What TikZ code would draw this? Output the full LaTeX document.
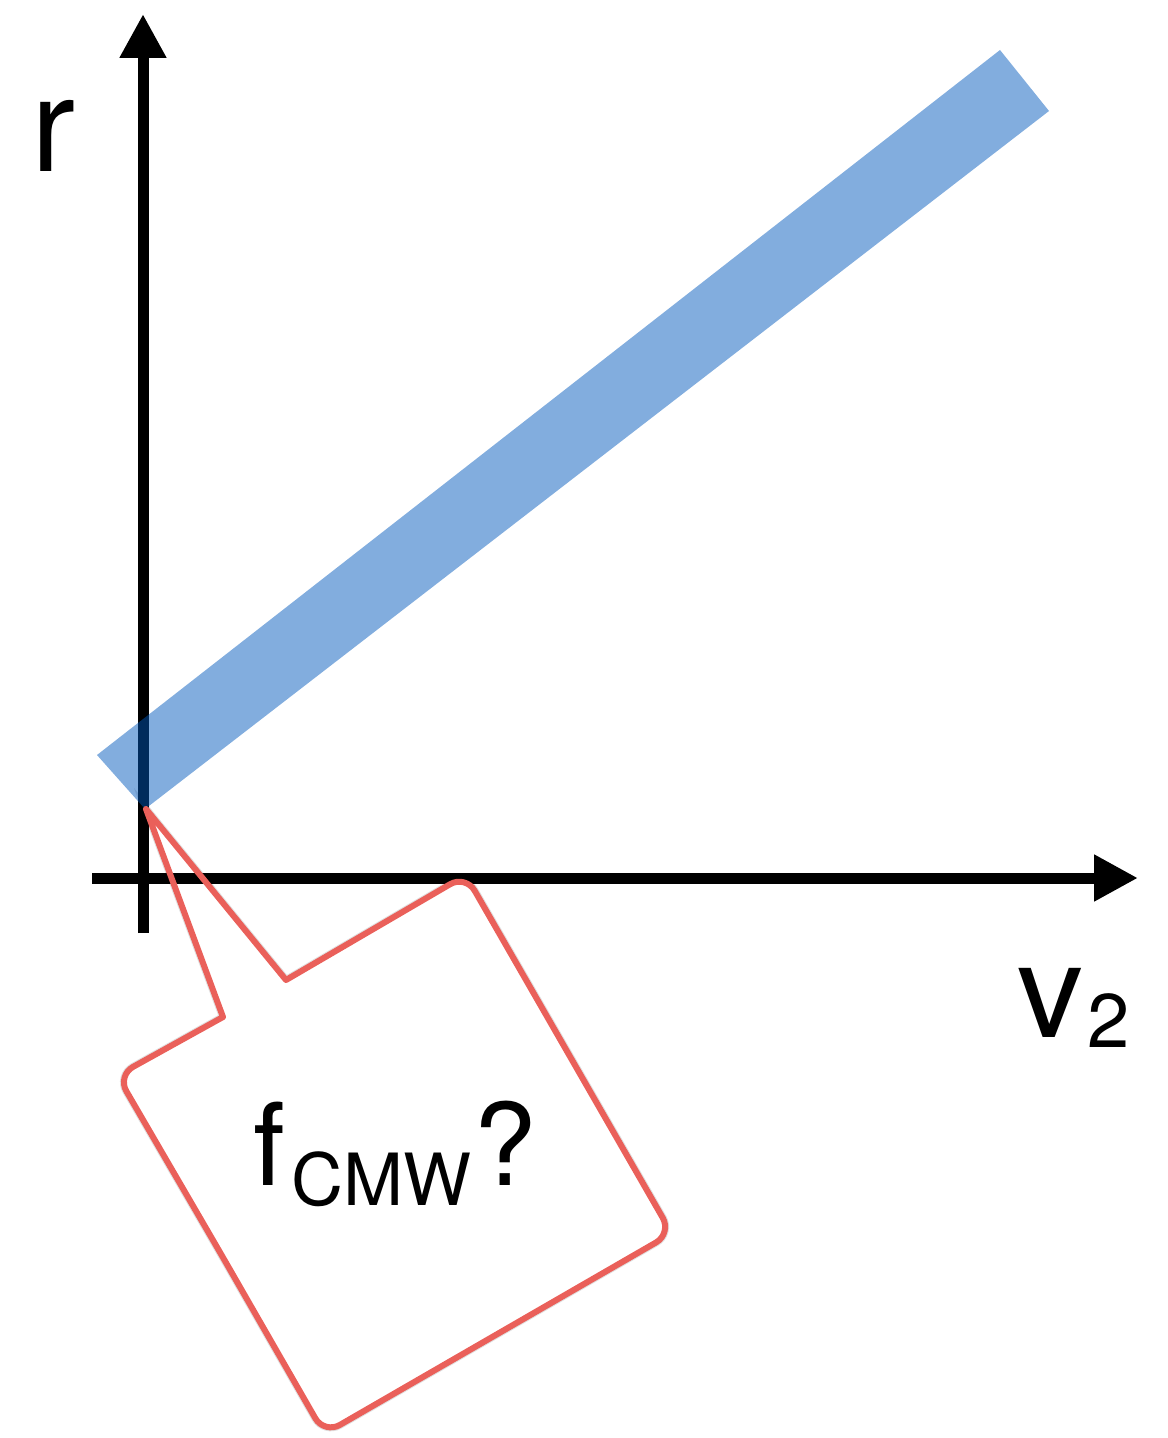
\documentclass[tikz,border=0pt]{standalone}
\usepackage{fontspec}
\setmainfont{TeX Gyre Heros}
\usetikzlibrary{arrows.meta}

\definecolor{bandblue}{RGB}{0,88,188}
\definecolor{calloutred}{RGB}{234,96,90}

\begin{document}
\begin{tikzpicture}[x=0.5pt,y=-0.5pt,
  axis/.style={line width=5.5pt,-{Triangle[length=22pt,width=22pt]}},
  band/.style={fill=bandblue,fill opacity=0.49},
  callout/.style={draw=calloutred,line width=3pt,line join=round},
  axislabel/.style={anchor=base west,inner sep=0pt,font=\fontsize{66}{66}\selectfont}]
  \useasboundingbox (0,0) rectangle (1167,1438);

  % Axis end points
  \coordinate (ybot) at (143,933);
  \coordinate (ytop) at (143,14);
  \coordinate (xleft) at (92,878);
  \coordinate (xright) at (1138,878);

  % Callout corners, pointer base and tip
  \coordinate (cm) at (221.3,1254.5);
  \coordinate (ctl) at (117.3,1075.6);
  \coordinate (ctr) at (465.7,875.1);
  \coordinate (cbr) at (671.7,1233.4);
  \coordinate (cbl) at (324.3,1433.9);
  \coordinate (pa) at (223,1017);
  \coordinate (pb) at (286,980);
  \coordinate (tip) at (146,809);

  % Callout shadow and white body
  \draw[black,opacity=0.12,line width=4pt,shift={(3,4)}]
    (cm) [rounded corners=9pt]-- (ctl) [sharp corners]-- (pa) -- (tip) -- (pb)
    [rounded corners=9pt]-- (ctr) -- (cbr) -- (cbl) -- cycle;
  \fill[white]
    (cm) [rounded corners=9pt]-- (ctl) [sharp corners]-- (pa) -- (tip) -- (pb)
    [rounded corners=9pt]-- (ctr) -- (cbr) -- (cbl) -- cycle;

  % Axes
  \draw[axis] (ybot) -- (ytop);
  \draw[axis] (xleft) -- (xright);

  % Band
  \fill[band] (97,755) -- (145,809) -- (1049,111) -- (1000,50) -- cycle;

  % Callout outline
  \draw[callout]
    (cm) [rounded corners=9pt]-- (ctl) [sharp corners]-- (pa) -- (tip) -- (pb)
    [rounded corners=9pt]-- (ctr) -- (cbr) -- (cbl) -- cycle;

  % Labels
  \node[axislabel] (ylabel) at (31,172) {r};
  \node[axislabel] (xlabel) at (1017,1037) {v\kern2pt\raisebox{-5pt}{\fontsize{38}{38}\selectfont 2}};
  \node[anchor=base west,inner sep=0pt,font=\fontsize{57}{57}\selectfont] (fcmw) at (253,1185)
    {f\kern3pt\raisebox{-10pt}{\fontsize{36}{36}\selectfont CMW}\kern1pt?};
\end{tikzpicture}
\end{document}
